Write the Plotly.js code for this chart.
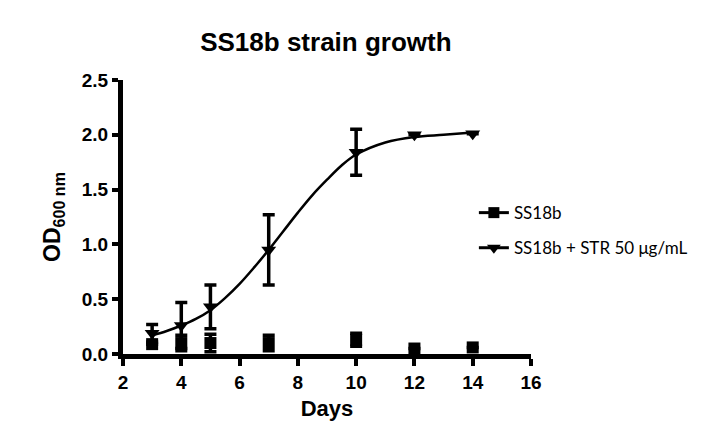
<!DOCTYPE html>
<html>
<head>
<meta charset="utf-8">
<script src="https://cdn.plot.ly/plotly-3.0.1.min.js"></script>
<style>html,body{margin:0;padding:0;background:#fff;}#chart{width:710px;height:439px;}</style>
</head>
<body>
<div id="chart"></div>
<script>
// Data
const days = [3, 4, 5, 7, 10, 12, 14];
const ss18b = [0.09, 0.10, 0.10, 0.10, 0.13, 0.05, 0.06];
const ss18bErr = [0, 0.07, 0.08, 0.07, 0.06, 0, 0];
const ss18bStr = [0.19, 0.26, 0.43, 0.95, 1.84, 2.00, 2.01];
const ss18bStrErr = [0.08, 0.21, 0.20, 0.32, 0.21, 0, 0];
// fitted curve
const fitX = [3, 3.5, 4, 4.5, 5, 5.5, 6, 6.5, 7, 7.5, 8, 8.5, 9, 9.5, 10, 11, 12, 13, 14];
const fitY = [0.17, 0.21, 0.26, 0.32, 0.40, 0.51, 0.64, 0.79, 0.95, 1.12, 1.29, 1.45, 1.59, 1.72, 1.82, 1.93, 1.98, 2.00, 2.02];
const xTicks = [2, 4, 6, 8, 10, 12, 14, 16];
const yTicks = [0, 0.5, 1.0, 1.5, 2.0, 2.5];
const names = ['SS18b', 'SS18b + STR 50 \u03bcg/mL'];

const traces = [
  {x: fitX, y: fitY, mode: 'lines', line: {color: '#000', width: 2.5, shape: 'spline', smoothing: 1}, showlegend: false, hoverinfo: 'skip'},
  {x: days, y: ss18bStr, mode: 'markers', marker: {symbol: 'triangle-down', size: 13, color: '#000'},
   error_y: {type: 'data', array: ss18bStrErr, color: '#000', thickness: 3.5, width: 6}, showlegend: false, cliponaxis: false},
  {x: days, y: ss18b, mode: 'markers', marker: {symbol: 'square', size: 12, color: '#000'},
   error_y: {type: 'data', array: ss18bErr, color: '#000', thickness: 3.5, width: 6}, showlegend: false, cliponaxis: false},
  {x: [null], y: [null], name: names[0], legendgroup: 'a', mode: 'lines+markers', line: {color: '#000', width: 3}, marker: {symbol: 'square', size: 11, color: '#000'}},
  {x: [null], y: [null], name: names[1], legendgroup: 'b', mode: 'lines+markers', line: {color: '#000', width: 3}, marker: {symbol: 'triangle-down', size: 12, color: '#000'}}
];

const fam = 'Liberation Sans, Arial, sans-serif';
const axisFont = {family: fam, size: 19, color: '#000', weight: 'bold'};
const layout = {
  width: 710, height: 439,
  margin: {l: 123, r: 179, t: 80, b: 85},
  paper_bgcolor: '#fff', plot_bgcolor: '#fff',
  title: {text: 'SS18b strain growth', x: 0.459, xanchor: 'center', y: 0.904, yanchor: 'middle',
          font: {family: fam, size: 26, color: '#000', weight: 'bold'}},
  xaxis: {range: [2, 16], tickvals: xTicks, ticktext: xTicks.map(String), showgrid: false, zeroline: false,
          showline: true, linewidth: 5, linecolor: '#000', ticks: 'outside', ticklen: 7, tickwidth: 4, tickcolor: '#000',
          tickfont: axisFont,
          title: {text: 'Days', font: {family: fam, size: 22, color: '#000', weight: 'bold'}, standoff: 10}},
  yaxis: {range: [0, 2.5], tickvals: yTicks, ticktext: yTicks.map(v => v.toFixed(1)), showgrid: false, zeroline: false,
          showline: true, linewidth: 5, linecolor: '#000', ticks: 'outside', ticklen: 6, tickwidth: 4, tickcolor: '#000',
          tickfont: axisFont,
          title: {text: 'OD<sub>600 nm</sub>', font: {family: fam, size: 23, color: '#000', weight: 'bold'}, standoff: 16}},
  legend: {x: 0.86, y: 0.58, xanchor: 'left', yanchor: 'top', bgcolor: 'rgba(0,0,0,0)', traceorder: 'grouped',
           font: {family: 'Lato, Open Sans, sans-serif', size: 17, color: '#000'}, tracegroupgap: 10, itemwidth: 30}
};

Plotly.newPlot('chart', traces, layout, {staticPlot: true, displayModeBar: false});
</script>
</body>
</html>
